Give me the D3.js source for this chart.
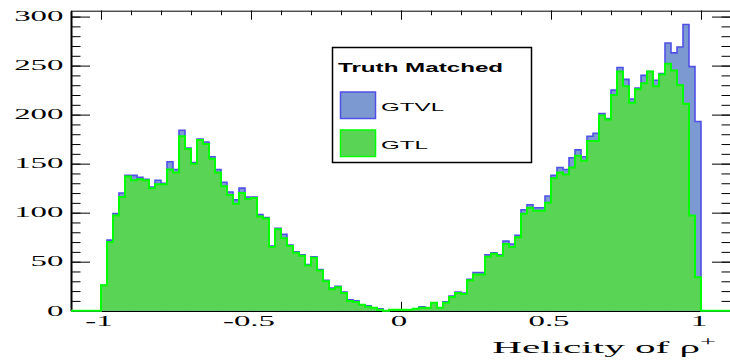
<!DOCTYPE html>
<html>
<head>
<meta charset="utf-8">
<script src="https://cdn.jsdelivr.net/npm/d3@7/dist/d3.min.js"></script>
<style>
  html, body { margin: 0; padding: 0; background: #fff; }
  svg { display: block; }
</style>
</head>
<body>
<svg id="chart" width="730" height="363"></svg>
<script>
// Histogram binning: 100 bins over [-1, 1]
const binLow = -1;
const binHigh = 1;

// Counts per bin, truth-matched GTVL selection
const gtvlCounts = [
  26, 72, 99, 120, 138, 138, 136, 134, 126, 133,
  130, 152, 144, 184, 166, 151, 175, 172, 157, 144,
  131, 121, 113, 125, 116, 116, 98, 95, 66, 84,
  78, 67, 60, 57, 47, 55, 42, 31, 23, 25,
  19, 11, 10, 6, 5, 3, 2, 0, 1, 1,
  1, 1, 2, 4, 3, 8, 3, 9, 15, 19,
  18, 32, 39, 39, 57, 59, 57, 71, 68, 77,
  103, 108, 105, 105, 117, 138, 146, 144, 156, 164,
  157, 178, 181, 201, 196, 225, 248, 236, 216, 227,
  240, 244, 235, 242, 273, 263, 269, 292, 249, 193
];

// Counts per bin, truth-matched GTL selection
const gtlCounts = [
  26, 70, 97, 116, 137, 133, 134, 133, 125, 129,
  129, 144, 141, 178, 165, 150, 174, 170, 155, 141,
  127, 118, 109, 120, 114, 115, 96, 94, 65, 83,
  74, 66, 59, 56, 46, 54, 41, 30, 22, 24,
  18, 10, 9, 6, 4, 3, 1, 0, 1, 1,
  1, 1, 2, 3, 3, 8, 3, 8, 14, 18,
  17, 31, 37, 37, 55, 58, 56, 68, 65, 75,
  99, 105, 102, 102, 110, 135, 141, 139, 146, 158,
  153, 173, 173, 199, 195, 220, 244, 229, 212, 226,
  232, 244, 229, 241, 252, 245, 230, 211, 97, 34
];

const xTickValues = [-1, -0.5, 0, 0.5, 1];
const xTickLabels = ["-1", "-0.5", "0", "0.5", "1"];
const yTickValues = [0, 50, 100, 150, 200, 250, 300];
const yTickLabels = ["0", "50", "100", "150", "200", "250", "300"];

const seriesNames = ["GTVL", "GTL"];
const legendTitle = "Truth Matched";
const xTitle = "Helicity of ρ";
const xTitleSup = "+";

// ---- layout ----
const svg = d3.select("#chart");
const frame = { left: 71, right: 731, top: 10.7, bottom: 310.7 };

const x = d3.scaleLinear().domain([-1.1, 1.1]).range([frame.left, frame.right]);
const y = d3.scaleLinear().domain([0, 306]).range([frame.bottom, frame.top]);

const nBins = gtvlCounts.length;
const binW = (binHigh - binLow) / nBins;

const serif = "'Liberation Serif', 'Times New Roman', serif";
const sans = "'Liberation Sans', Arial, Helvetica, sans-serif";

// ---- axes (ticks drawn inward, ROOT style) ----
const eps = 1e-9;
const xMinor = d3.range(-1.1, 1.1 + eps, 0.1).map(v => +v.toFixed(2));
const yMinor = d3.range(0, 306, 10);

function styleAxis(g, width) {
  g.select(".domain").attr("stroke", "#000").attr("stroke-width", width);
  g.selectAll(".tick line").attr("stroke", "#000").attr("stroke-width", 1);
}

// bottom
svg.append("g").attr("transform", `translate(0,${frame.bottom})`)
  .call(d3.axisBottom(x).tickValues(xMinor).tickSize(-4.5).tickSizeOuter(0).tickFormat(""))
  .call(g => styleAxis(g, 1.5));
svg.append("g").attr("transform", `translate(0,${frame.bottom})`)
  .call(d3.axisBottom(x).tickValues(xTickValues).tickSize(-9).tickSizeOuter(0).tickFormat(""))
  .call(g => { g.select(".domain").remove(); styleAxis(g, 1); });

// top
svg.append("g").attr("transform", `translate(0,${frame.top})`)
  .call(d3.axisTop(x).tickValues(xMinor).tickSize(-4.5).tickSizeOuter(0).tickFormat(""))
  .call(g => styleAxis(g, 1));
svg.append("g").attr("transform", `translate(0,${frame.top})`)
  .call(d3.axisTop(x).tickValues(xTickValues).tickSize(-9).tickSizeOuter(0).tickFormat(""))
  .call(g => { g.select(".domain").remove(); styleAxis(g, 1); });

// left
svg.append("g").attr("transform", `translate(${frame.left},0)`)
  .call(d3.axisLeft(y).tickValues(yMinor).tickSize(-9.5).tickSizeOuter(0).tickFormat(""))
  .call(g => styleAxis(g, 2));
svg.append("g").attr("transform", `translate(${frame.left},0)`)
  .call(d3.axisLeft(y).tickValues(yTickValues).tickSize(-19).tickSizeOuter(0).tickFormat(""))
  .call(g => { g.select(".domain").remove(); styleAxis(g, 1); });

// right
svg.append("g").attr("transform", `translate(${frame.right},0)`)
  .call(d3.axisRight(y).tickValues(yMinor).tickSize(-9.5).tickSizeOuter(0).tickFormat(""))
  .call(g => styleAxis(g, 1));
svg.append("g").attr("transform", `translate(${frame.right},0)`)
  .call(d3.axisRight(y).tickValues(yTickValues).tickSize(-19).tickSizeOuter(0).tickFormat(""))
  .call(g => { g.select(".domain").remove(); styleAxis(g, 1); });

// ---- histograms ----
function histPoints(counts) {
  const pts = [[x.domain()[0], 0], [binLow, 0]];
  counts.forEach((c, i) => pts.push([binLow + i * binW, c]));
  pts.push([binHigh, 0]);
  pts.push([x.domain()[1], 0]);
  return pts;
}

const area = d3.area().curve(d3.curveStepAfter)
  .x(d => x(d[0])).y0(y(0)).y1(d => y(d[1]));
const line = d3.line().curve(d3.curveStepAfter)
  .x(d => x(d[0])).y(d => y(d[1]));

const series = [
  { name: seriesNames[0], counts: gtvlCounts, fill: "#7d99d1", stroke: "#5050e6", sw: 1.6 },
  { name: seriesNames[1], counts: gtlCounts, fill: "#59d454", stroke: "#00ff00", sw: 2 }
];

series.forEach(s => {
  const pts = histPoints(s.counts);
  svg.append("path").datum(pts).attr("d", area).attr("fill", s.fill);
  svg.append("path").datum(pts).attr("d", line)
    .attr("fill", "none").attr("stroke", s.stroke).attr("stroke-width", s.sw);
});

// ---- tick labels (wide serif face) ----
const labelScale = 2.35;
yTickValues.forEach((v, i) => {
  svg.append("text")
    .attr("transform", `translate(63.5,${y(v) + 4.8}) scale(${labelScale},1)`)
    .attr("text-anchor", "end")
    .attr("font-family", serif).attr("font-size", 14)
    .attr("fill", "#000")
    .text(yTickLabels[i]);
});
xTickValues.forEach((v, i) => {
  svg.append("text")
    .attr("transform", `translate(${x(v) - 2},326) scale(${labelScale},1)`)
    .attr("text-anchor", "middle")
    .attr("font-family", serif).attr("font-size", 14)
    .attr("fill", "#000")
    .text(xTickLabels[i]);
});

// axis title
const title = svg.append("text")
  .attr("transform", `translate(716,353) scale(${labelScale},1)`)
  .attr("text-anchor", "end")
  .attr("font-family", serif).attr("font-size", 17.5)
  .attr("fill", "#000");
title.append("tspan").text(xTitle);
title.append("tspan").attr("font-size", 12).attr("dy", -7).text(xTitleSup);

// ---- legend ----
const leg = svg.append("g");
leg.append("rect")
  .attr("x", 332.5).attr("y", 47.5).attr("width", 199).attr("height", 115)
  .attr("fill", "#fff").attr("stroke", "#000").attr("stroke-width", 1.5);
leg.append("text")
  .attr("transform", `translate(338,72) scale(1.92,1)`)
  .attr("font-family", sans).attr("font-weight", "bold").attr("font-size", 12.6)
  .attr("fill", "#000").text(legendTitle);

const rowY = [92, 130];
series.forEach((s, i) => {
  leg.append("rect")
    .attr("x", 340.5).attr("y", rowY[i]).attr("width", 35).attr("height", 26.5)
    .attr("fill", s.fill).attr("stroke", s.stroke).attr("stroke-width", 1.5);
  leg.append("text")
    .attr("transform", `translate(381,${rowY[i] + 18.5}) scale(2.16,1)`)
    .attr("font-family", sans).attr("font-size", 11.2)
    .attr("fill", "#000").text(s.name);
});
</script>
</body>
</html>
